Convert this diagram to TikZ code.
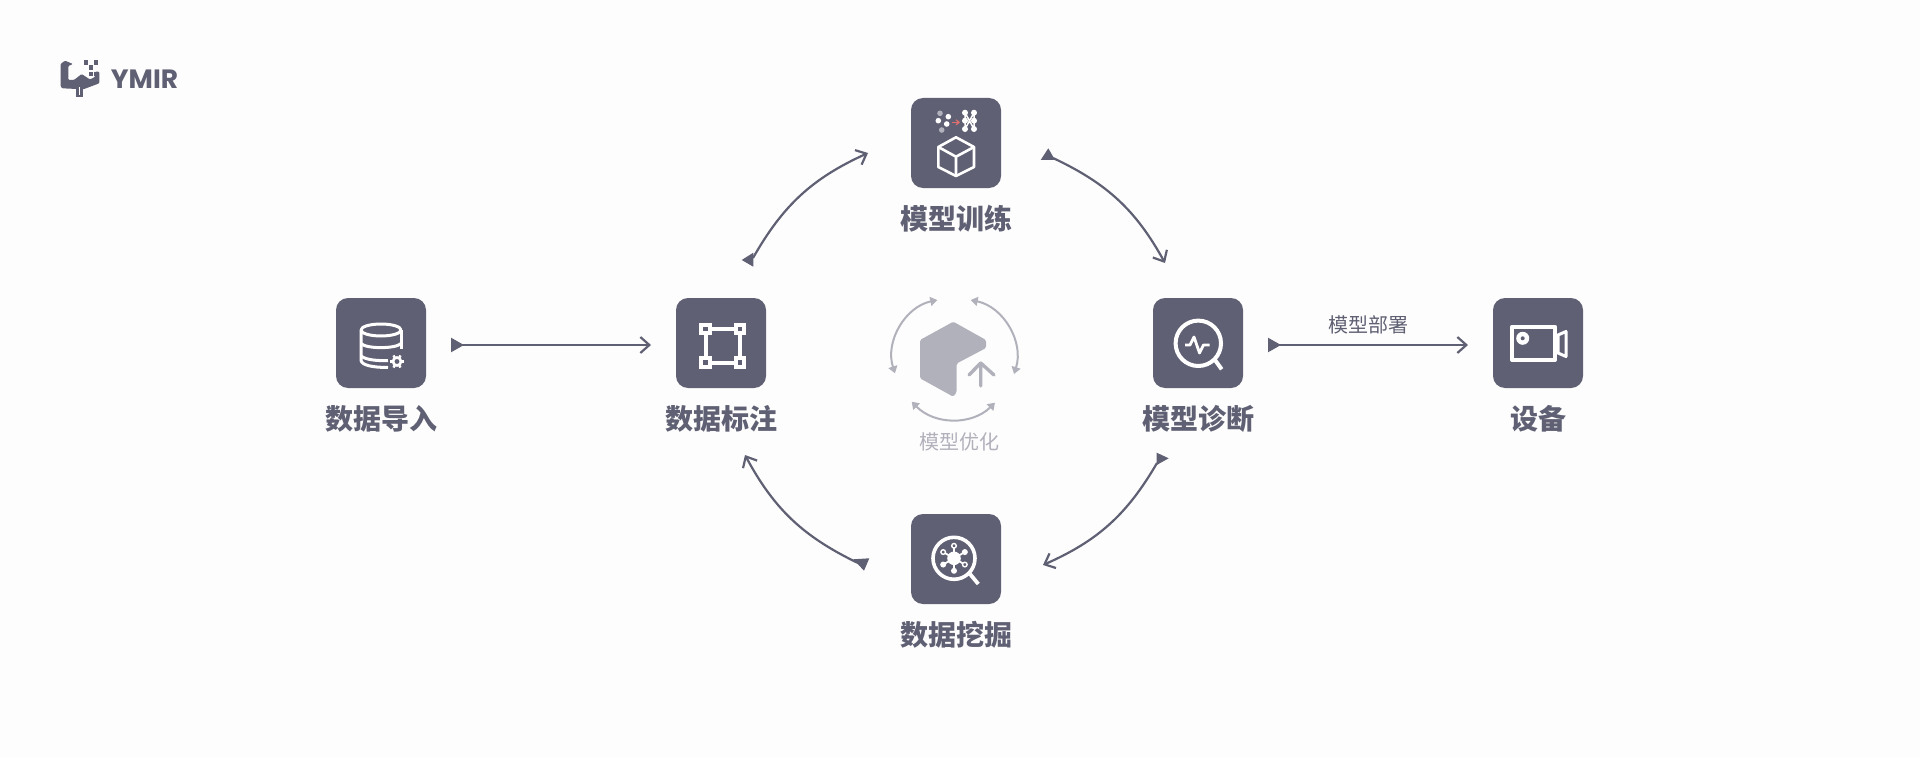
\documentclass[tikz,border=0pt]{standalone}
\usepackage{fontspec}
\setmainfont{Noto Sans CJK SC}
\newfontfamily\logofont{Poppins}
\usetikzlibrary{arrows.meta, positioning, calc}
\definecolor{ink}{HTML}{5F6073}
\definecolor{mist}{HTML}{B1B1BC}
\definecolor{paper}{HTML}{FDFDFD}
\definecolor{spark}{HTML}{E0706F}

\begin{document}
\begin{tikzpicture}[
  x=1pt, y=-1pt,
  tile/.style={rectangle, rounded corners=12pt, fill=ink, minimum size=90pt,
    inner sep=0pt, outer sep=0pt},
  caption/.style={inner sep=0pt, text=ink, font=\fontsize{28}{30}\selectfont\bfseries},
  flow/.style={draw=ink, line width=2.2pt,
    -{Straight Barb[length=9pt, width=16pt, line width=2.2pt]}},
  straight/.style={flow, {Triangle[reversed, length=13pt, width=14pt]}-{Straight Barb[length=9pt, width=16pt, line width=2.2pt]},
    shorten <=25pt, shorten >=25pt},
  wedge/.style={fill=ink},
  glyph/.style={draw=white, line width=2.6pt, line join=round},
  halo/.style={draw=mist, line width=2pt,
    {Triangle[length=7pt, width=9pt]}-{Triangle[length=7pt, width=9pt]}}
]
  \useasboundingbox[fill=paper] (0,0) rectangle (1920,757);

  % stations
  \node[tile] (imp) at (381,343) {};
  \node[tile, right=250pt of imp] (ann) {};
  \node[tile, right=387pt of ann] (diag) {};
  \node[tile, right=250pt of diag] (dev) {};
  \node[tile] (train) at (956,143) {};
  \node[tile] (mine) at (956,559) {};

  \node[caption, below=17pt of imp] (impt) {数据导入};
  \node[caption, below=17pt of ann] (annt) {数据标注};
  \node[caption, below=17pt of diag] (diagt) {模型诊断};
  \node[caption, below=17pt of dev] (devt) {设备};
  \node[caption, below=17pt of train] (traint) {模型训练};
  \node[caption, below=17pt of mine] (minet) {数据挖掘};

  % connectors
  \draw[straight] ([yshift=-2pt]imp.east) -- ([yshift=-2pt]ann.west);
  \draw[straight] ([yshift=-2pt]diag.east) -- node[above=10pt, inner sep=0pt, text=ink,
    font=\fontsize{20}{22}\selectfont] (deploy) {模型部署} ([yshift=-2pt]dev.west);
  \draw[flow] ([shift={(32,-40)}]ann.north) to[bend left=18] ([shift={(-43,10)}]train.west);
  \draw[flow] ([shift={(52,15)}]train.east) to[bend left=18] ([shift={(-33,-35)}]diag.north);
  \draw[flow] ([shift={(-41,75)}]diag.south) to[bend left=18] ([shift={(42,6)}]mine.east);
  \draw[flow] ([shift={(-53,4)}]mine.west) to[bend left=18] ([shift={(24,67)}]ann.south);
  \fill[wedge] (741.7,260) -- (753.3,252.7) -- (753.3,266.7) -- cycle;
  \fill[wedge] (1040.7,160) -- (1048.3,148.3) -- (1055,160) -- cycle;
  \fill[wedge] (1156.7,452.7) -- (1168.7,458.3) -- (1156.7,465) -- cycle;
  \fill[wedge] (853.3,559.3) -- (869.3,558.3) -- (864,570.7) -- cycle;

  % model optimisation in the middle
  \fill[mist, rounded corners=1.5pt] (920,340) -- (953.3,321.7) -- (986,340) -- (986,348)
    -- (956.7,363.5) -- (956.7,392) -- (953.3,396.7) -- (920,378.3) -- cycle;
  \draw[mist, line width=3.4pt, line cap=round, line join=round]
    (980.7,386) -- (980.7,363) (969,375) -- (980.7,363) -- (994,375);
  \draw[halo] (895,373.3) to[bend left=48] (937.3,300);
  \draw[halo] (970.7,300) to[bend left=48] (1014,374);
  \draw[halo] (911.7,401.7) to[bend right=45] (995,402.7);
  \node[inner sep=0pt, text=mist, font=\fontsize{20}{22}\selectfont] (opt) at (959,442) {模型优化};

  % database icon
  \draw[glyph, line width=3pt] (381,330) ellipse (20 and 6);
  \draw[glyph, line width=3pt] (361,330) -- (361,360) .. controls (361,365) and (372,367.5) .. (388,367.5);
  \draw[glyph, line width=3pt] (401,330) -- (401,349);
  \draw[glyph, line width=3pt] (361,343.5) .. controls (366,349) and (396,349) .. (401,343.5);
  \draw[glyph, line width=3pt] (361,356) .. controls (366,360) and (378,361) .. (388,360.5);
  \draw[white, line width=2.6pt] (397,361.5) circle (4);
  \foreach \a in {0,60,...,300}
    \draw[white, line width=2.4pt] (397,361.5) ++(\a:4.5) -- ++(\a:2.5);

  % bounding box icon
  \draw[glyph, line width=3.6pt] (705.7,329) rectangle (740,362.7);
  \foreach \cx in {705.7,740} \foreach \cy in {329,362.7}
    \draw[white, fill=ink, line width=4pt] (\cx-4.35,\cy-4.35) rectangle (\cx+4.35,\cy+4.35);

  % cube and dots icon
  \draw[glyph] (956,137.3) -- (974,147) -- (974,167) -- (956,176) -- (938.3,167) -- (938.3,147) -- cycle;
  \draw[glyph] (938.3,147) -- (956,156.7) -- (974,147) (956,156.7) -- (956,176);
  \foreach \px/\py in {948.3/116.7, 938.3/120.7, 946.7/124} \fill[white] (\px,\py) circle (2.8);
  \fill[mist] (940,113.3) circle (2.8);
  \fill[mist] (941.7,130) circle (2.8);
  \draw[spark, line width=1.2pt, -{Straight Barb[length=3pt, width=5pt]}] (952,122.3) -- (960,122.3);
  \draw[white, line width=1.5pt] (965,112.7) -- (974,129) (974,112.7) -- (965,129)
    (965,112.7) -- (965,129) (974,112.7) -- (974,129);
  \foreach \px in {965,974} \foreach \py in {112.7,120.7,129} \fill[white] (\px,\py) circle (3);

  % diagnosis icon
  \draw[glyph, line width=4pt] (1198.3,343.3) circle (22.7);
  \draw[glyph, line width=4pt] (1215,360) -- (1221.7,369.3);
  \draw[glyph, line width=2.8pt] (1185,345) -- (1190,345) -- (1194,337) -- (1199.5,353) -- (1203.5,345) -- (1209.5,345);

  % camera icon
  \draw[glyph, line width=4pt] (1512,326.7) rectangle (1555,360);
  \fill[white] (1522.7,338.3) circle (6.5);
  \fill[ink] (1522.7,338.3) circle (2);
  \draw[glyph, line width=3pt] (1558,335) -- (1566,331.5) -- (1566,356.5) -- (1558,353) -- cycle;

  % mining icon
  \draw[glyph, line width=3.6pt] (954,558.3) circle (21);
  \draw[glyph, line width=3.8pt] (970,574) -- (978.3,584);
  \fill[white] (954,558.3) circle (6.8);
  \foreach \a in {-90,-30,...,210}
    \draw[white, line width=1.8pt] (954,558.3) -- ++(\a:12.5);
  \foreach \a in {-30,150,90}
    \fill[white] (954,558.3) ++(\a:12.5) circle (3);
  \foreach \a in {-90,30,210}
    \draw[white, fill=ink, line width=1.4pt] (954,558.3) ++(\a:12.5) circle (2.3);

  % logo
  \fill[ink, rounded corners=1pt] (60.5,64) -- (65,60.7) -- (73,64) -- (68.3,66) -- (68.3,80) -- (74,80)
    -- (81.7,74) -- (90,79.5) -- (95,77) -- (95,71.7) -- (99.3,71.7) -- (99.3,83.3) -- (83.3,89.3)
    -- (62,88.3) -- (60.5,86) -- cycle;
  \fill[ink] (75.7,85) rectangle (82.7,97.3);
  \fill[white] (78.6,87) rectangle (79.8,95);
  \foreach \px/\py in {83.5/60.5, 93.5/60.5, 88.5/65.5, 88.5/72, 93.5/72}
    \fill[ink] (\px,\py) rectangle ++(4.5,4.5);
  \node[inner sep=0pt, text=ink, font=\logofont\fontsize{26.5}{27}\selectfont\bfseries] (ymir) at (144.5,79.5) {YMIR};
\end{tikzpicture}
\end{document}
